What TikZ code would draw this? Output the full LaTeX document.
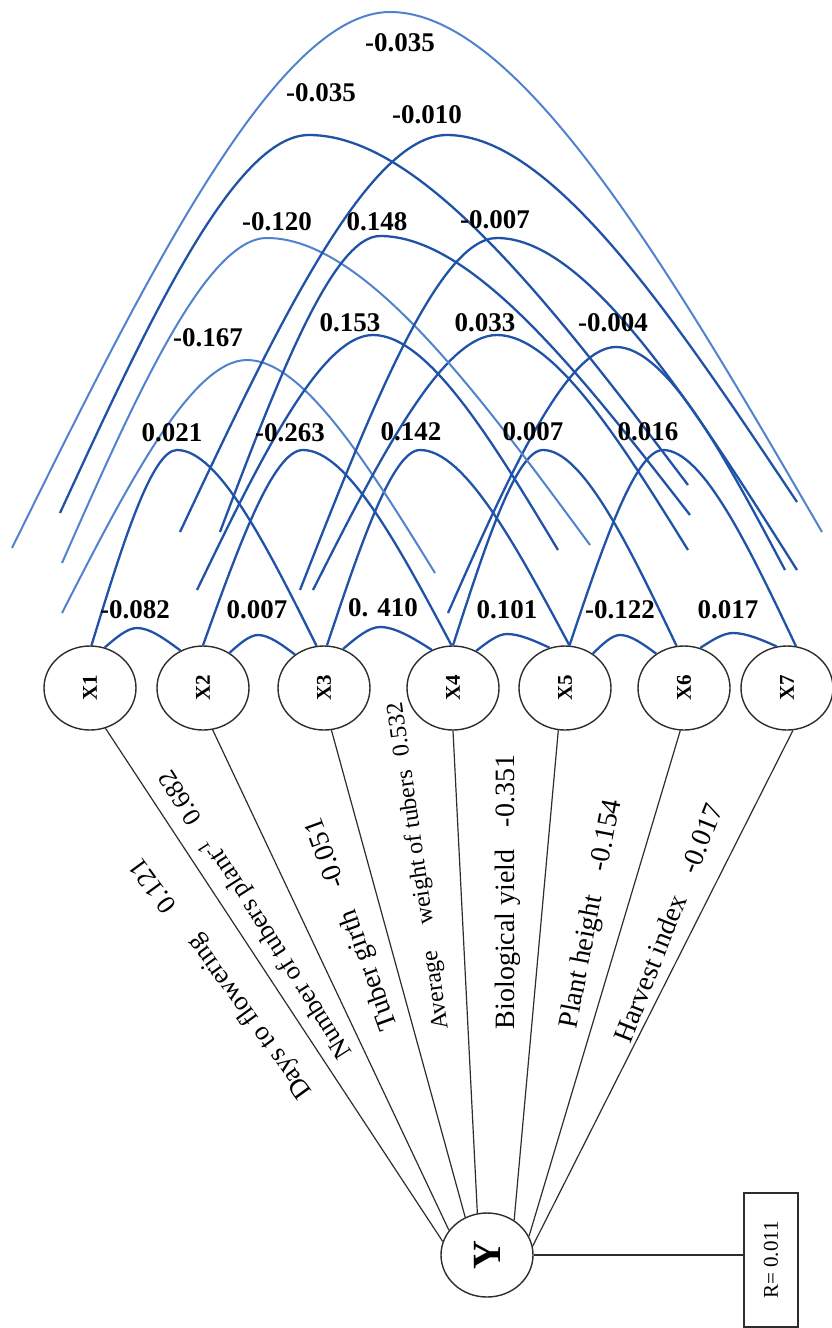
\documentclass[tikz,border=0pt]{standalone}
\usepackage{fontspec}
\setmainfont{Liberation Serif}
\usetikzlibrary{shapes.geometric,calc}

\definecolor{arcdark}{RGB}{32,82,168}
\definecolor{arclight}{RGB}{80,130,206}
\definecolor{inkgray}{RGB}{45,45,45}

\newcommand\fsz[1]{\fontsize{#1}{#1}\selectfont}

% correlation bow: style, left foot, apex, right foot
\newcommand\pathbow[4]{%
  \draw[#1] let \p1=(#2), \p2=(#3), \p3=(#4) in
    (\p1) .. controls (\x1+0.35*\x2-0.35*\x1, \y1+0.5*\y2-0.5*\y1)
               and (\x2-0.3*\x2+0.3*\x1, \y2) .. (\p2)
          .. controls (\x2+0.3*\x3-0.3*\x2, \y2)
               and (\x3+0.35*\x2-0.35*\x3, \y3+0.5*\y2-0.5*\y3) .. (\p3);
}

\tikzset{
  xnode/.style={ellipse, draw=inkgray, line width=1.4pt, minimum width=92pt,
    minimum height=84pt, inner sep=0pt, font=\fsz{21}\bfseries},
  ynode/.style={ellipse, draw=inkgray, line width=1.4pt, minimum width=92pt,
    minimum height=84pt, inner sep=0pt, font=\fsz{40}\bfseries},
  rbox/.style={draw=inkgray, line width=1.3pt, minimum width=54pt,
    minimum height=134pt, inner sep=0pt, font=\fsz{21}},
  arclbl/.style={font=\fsz{27}\bfseries, inner sep=0pt},
  pathlbl/.style={font=\fsz{28}, inner sep=0pt},
  bowdark/.style={draw=arcdark, line width=2.3pt},
  bowlight/.style={draw=arclight, line width=2pt},
  yline/.style={draw=inkgray, line width=1.2pt},
}

\begin{document}
\begin{tikzpicture}[x=1pt, y=-1pt]
\useasboundingbox (0,0) rectangle (832,1328);

% trait nodes
\node[xnode] (X1) at (90,688)  {\rotatebox{90}{X1}};
\node[xnode] (X2) at (203,688) {\rotatebox{90}{X2}};
\node[xnode] (X3) at (324,688) {\rotatebox{90}{X3}};
\node[xnode] (X4) at (453,688) {\rotatebox{90}{X4}};
\node[xnode] (X5) at (565,688) {\rotatebox{90}{X5}};
\node[xnode] (X6) at (684,688) {\rotatebox{90}{X6}};
\node[xnode] (X7) at (787,688) {\rotatebox{90}{X7}};

% yield node and residual
\node[ynode] (Y) at (487,1255) {\rotatebox{90}{Y}};
\node[rbox] (R) at (771,1260) {\rotatebox{90}{R= 0.011}};
\draw[yline] (Y.east) -- (Y.east -| R.west);

% direct paths
\draw[yline] (X1.291) -- (Y.163);
\draw[yline] (X2.283) -- (Y.147);
\draw[yline] (X3.280) -- (Y.120);
\draw[yline] (X4.270) -- (Y.103);
\draw[yline] (X5.261) -- (Y.52);
\draw[yline] (X6.265) -- (Y.24);
\draw[yline] (X7.278) -- (Y.11);

\node[pathlbl, font=\fsz{27}, rotate=126] (p1) at (222,978) {Days to flowering\hspace{1.3em}0.121};
\node[pathlbl, font=\fsz{26}, rotate=122.5] (p2) at (255,915) {Number of tubers plant\textsuperscript{-1}\hspace{0.8em}0.682};
\node[pathlbl, rotate=110] (p3) at (353,924) {Tuber girth\hspace{0.9em}-0.051};
\node[pathlbl, font=\fsz{24}, rotate=98] (p4) at (419,866) {Average\hspace{1.1em}weight of tubers\hspace{0.6em}0.532};
\node[pathlbl, rotate=90] (p5) at (508,892) {Biological yield\hspace{0.8em}-0.351};
\node[pathlbl, rotate=79] (p6) at (592,914) {Plant height\hspace{0.9em}-0.154};
\node[pathlbl, rotate=68.5] (p7) at (668,923) {Harvest index\hspace{0.9em}-0.017};

% apexes of the bows
\coordinate (c12) at (137,628);
\coordinate (c23) at (258,635);
\coordinate (c34) at (380,627);
\coordinate (c45) at (507,634);
\coordinate (c56) at (620,635);
\coordinate (c67) at (733,633);
\coordinate (c13) at (177,450);
\coordinate (c24) at (303,450);
\coordinate (c35) at (420,450);
\coordinate (c46) at (543,450);
\coordinate (c57) at (663,450);
\coordinate (c14) at (247,360);
\coordinate (c25) at (373,335);
\coordinate (c36) at (497,335);
\coordinate (c47) at (616,347);
\coordinate (c15) at (267,238);
\coordinate (c26) at (380,236);
\coordinate (c37) at (497,238);
\coordinate (c16) at (309,135);
\coordinate (c27) at (447,135);
\coordinate (c17) at (390,12);

% loose feet of the longer bows
\coordinate (l14) at (62,613);   \coordinate (r14) at (435,573);
\coordinate (l25) at (197,590);  \coordinate (r25) at (558,550);
\coordinate (l36) at (313,590);  \coordinate (r36) at (688,550);
\coordinate (l47) at (448,613);  \coordinate (r47) at (785,570);
\coordinate (l15) at (62,563);   \coordinate (r15) at (590,545);
\coordinate (l26) at (220,532);  \coordinate (r26) at (690,515);
\coordinate (l37) at (300,590);  \coordinate (r37) at (797,570);
\coordinate (l16) at (60,513);   \coordinate (r16) at (688,485);
\coordinate (l27) at (180,532);  \coordinate (r27) at (797,502);
\coordinate (l17) at (12,548);   \coordinate (r17) at (822,532);

% neighbouring traits
\pathbow{bowdark}{X1.70}{c12}{X2.121}
\pathbow{bowdark}{X2.53}{c23}{X3.131}
\pathbow{bowdark}{X3.64}{c34}{X4.119}
\pathbow{bowdark}{X4.58}{c45}{X5.111}
\pathbow{bowdark}{X5.51}{c56}{X6.129}
\pathbow{bowdark}{X6.68}{c67}{X7.104}

% two apart
\pathbow{bowdark}{X1.88}{c13}{X3.100}
\pathbow{bowdark}{X2.90}{c24}{X4.92}
\pathbow{bowdark}{X3.86}{c35}{X5.84}
\pathbow{bowdark}{X4.90}{c46}{X6.100}
\pathbow{bowdark}{X5.84}{c57}{X7.78}

% three apart
\pathbow{bowlight}{l14}{c14}{r14}
\pathbow{bowdark}{l25}{c25}{r25}
\pathbow{bowdark}{l36}{c36}{r36}
\pathbow{bowdark}{l47}{c47}{r47}

% four apart and more
\pathbow{bowlight}{l15}{c15}{r15}
\pathbow{bowdark}{l26}{c26}{r26}
\pathbow{bowdark}{l37}{c37}{r37}
\pathbow{bowdark}{l16}{c16}{r16}
\pathbow{bowdark}{l27}{c27}{r27}
\pathbow{bowlight}{l17}{c17}{r17}

% correlation values
\node[arclbl] (t12) at (135,610) {-0.082};
\node[arclbl] (t23) at (257,610) {0.007};
\node[arclbl] (t34) at (383,608) {0. 410};
\node[arclbl] (t45) at (507,610) {0.101};
\node[arclbl] (t56) at (620,610) {-0.122};
\node[arclbl] (t67) at (728,610) {0.017};
\node[arclbl] (t13) at (172,433) {0.021};
\node[arclbl] (t24) at (290,433) {-0.263};
\node[arclbl] (t35) at (411,432) {0.142};
\node[arclbl] (t46) at (533,432) {0.007};
\node[arclbl] (t57) at (648,432) {0.016};
\node[arclbl] (t14) at (208,338) {-0.167};
\node[arclbl] (t25) at (350,323) {0.153};
\node[arclbl] (t36) at (485,323) {0.033};
\node[arclbl] (t47) at (613,323) {-0.004};
\node[arclbl] (t15) at (277,222) {-0.120};
\node[arclbl] (t26) at (377,222) {0.148};
\node[arclbl] (t37) at (495,220) {-0.007};
\node[arclbl] (t16) at (321,93) {-0.035};
\node[arclbl] (t27) at (427,115) {-0.010};
\node[arclbl] (t17) at (400,43) {-0.035};
\end{tikzpicture}
\end{document}
